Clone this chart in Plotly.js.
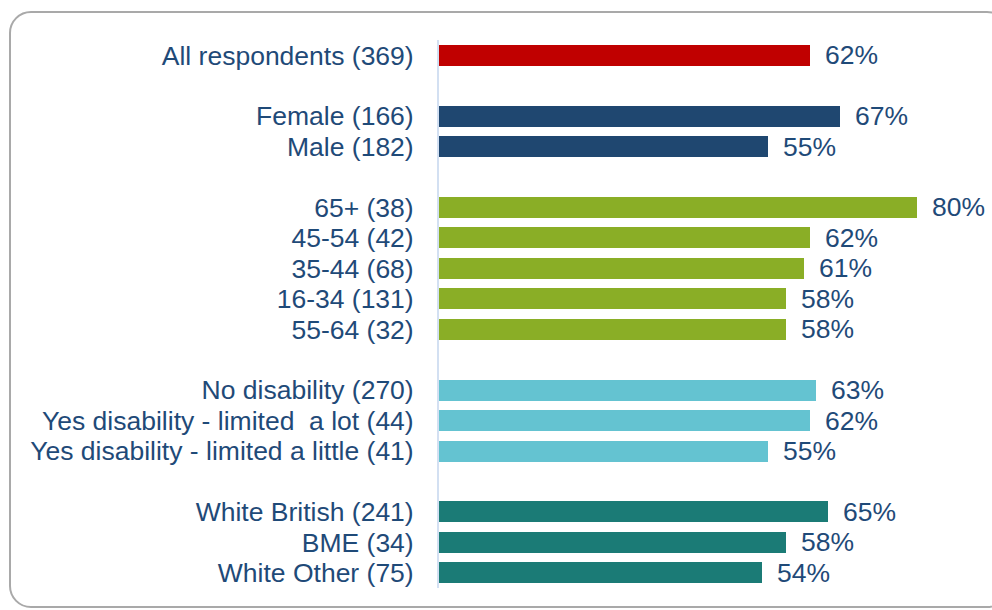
<!DOCTYPE html>
<html>
<head>
<meta charset="utf-8">
<script src="https://cdn.plot.ly/plotly-3.0.1.min.js"></script>
<style>
  html, body { margin: 0; padding: 0; background: #ffffff; overflow: hidden; }
  #wrap { position: relative; width: 992px; height: 610px; overflow: hidden; }
  #frame {
    position: absolute; left: 9px; top: 11px; width: 1000px; height: 597px;
    border: 2px solid #a9a9a9; border-radius: 22px; box-sizing: border-box;
  }
  #chart { position: absolute; left: 0; top: 0; width: 992px; height: 610px; }
</style>
</head>
<body>
<div id="wrap">
  <div id="frame"></div>
  <div id="chart"></div>
</div>
<script>
// Survey breakdown: share of respondents, by group
const categories = [
  "All respondents (369)",
  "Female (166)", "Male (182)",
  "65+ (38)", "45-54 (42)", "35-44 (68)", "16-34 (131)", "55-64 (32)",
  "No disability (270)", "Yes disability - limited  a lot (44)", "Yes disability - limited a little (41)",
  "White British (241)", "BME (34)", "White Other (75)"
];
const values = [62, 67, 55, 80, 62, 61, 58, 58, 63, 62, 55, 65, 58, 54];
// group each row belongs to (a blank row separates groups)
const groups = [0, 1, 1, 2, 2, 2, 2, 2, 3, 3, 3, 4, 4, 4];
const groupColors = ["#c00000", "#1f4770", "#8aae26", "#64c3d1", "#1b7b76"];

const textColor = "#1f4a78";
const fontFamily = "Arial, 'Liberation Sans', sans-serif";
const fontSize = 26.5;

// row slot = index + group number, leaving an empty slot between groups
const slots = categories.map((c, i) => i + groups[i]);
const colors = groups.map(g => groupColors[g]);

const bars = {
  type: "bar",
  orientation: "h",
  x: values,
  y: slots,
  width: 0.69,
  marker: { color: colors, line: { width: 0 } },
  hoverinfo: "skip"
};

const valueLabels = values.map((v, i) => ({
  x: v, y: slots[i], xref: "x", yref: "y",
  text: v + "%", showarrow: false,
  xanchor: "left", yanchor: "middle", xshift: 13,
  font: { family: fontFamily, size: fontSize, color: textColor }
}));

const layout = {
  width: 992, height: 610,
  margin: { l: 439, r: 15, t: 40, b: 22, pad: 0 },
  paper_bgcolor: "rgba(0,0,0,0)",
  plot_bgcolor: "rgba(0,0,0,0)",
  showlegend: false,
  bargap: 0,
  xaxis: {
    range: [0, 90], showgrid: false, zeroline: false,
    showticklabels: false, ticks: "", showline: false, fixedrange: true
  },
  yaxis: {
    range: [17.5, -0.5],
    tickmode: "array", tickvals: slots, ticktext: categories,
    showgrid: false, zeroline: false,
    showline: true, linecolor: "#d3e0f2", linewidth: 2,
    ticks: "outside", ticklen: 18, tickcolor: "rgba(0,0,0,0)",
    tickfont: { family: fontFamily, size: fontSize, color: textColor },
    fixedrange: true
  },
  annotations: valueLabels
};

Plotly.newPlot("chart", [bars], layout, { displayModeBar: false, staticPlot: true });
</script>
</body>
</html>
